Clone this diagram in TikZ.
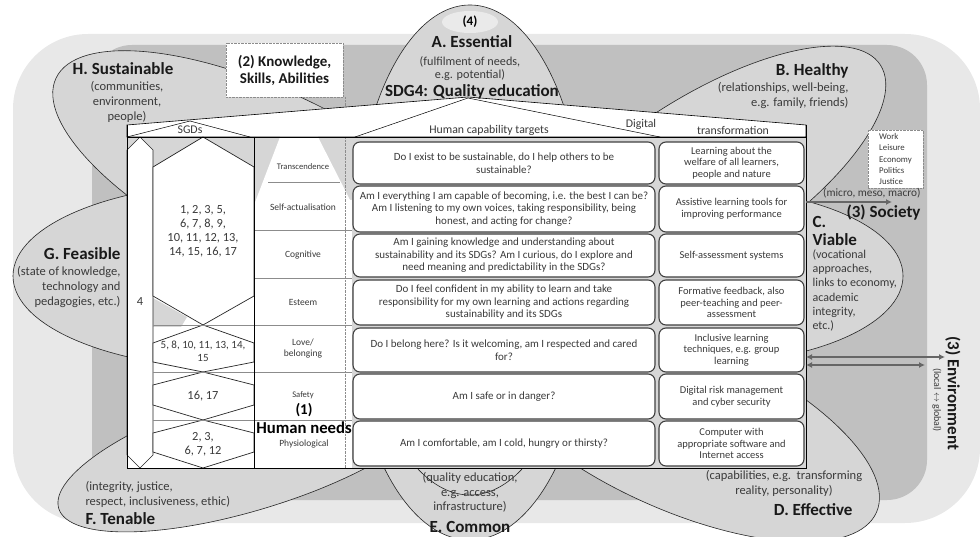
\documentclass[tikz,border=0pt]{standalone}
\usepackage{fontspec}
\setmainfont{Carlito}
\usetikzlibrary{arrows.meta}
\definecolor{outergray}{HTML}{E8E8E8}
\definecolor{midgray}{HTML}{C0C0C0}
\definecolor{petalgray}{HTML}{D6D6D6}
\definecolor{inkgray}{HTML}{3A3A3A}
\definecolor{linegray}{HTML}{8C8C8C}
\tikzset{
  petal/.style={fill=petalgray, draw=black!85, line width=0.6pt},
  hexcell/.style={fill=white, draw=black!85, line width=0.7pt},
  rowline/.style={draw=linegray, line width=0.5pt},
  targetbox/.style={draw=black!75, line width=1.1pt, fill=white, rounded corners=7pt, align=center,
    text=inkgray, font=\fontsize{11}{12.5}\selectfont, inner sep=1pt, minimum width=302},
  digitalbox/.style={targetbox, minimum width=145, font=\fontsize{10.5}{11.6}\selectfont},
  petaltitle/.style={font=\fontsize{17}{18}\selectfont\bfseries, text=black!90},
  gloss/.style={font=\fontsize{12.5}{15}\selectfont, text=inkgray},
  level/.style={font=\fontsize{9.5}{11}\selectfont, text=inkgray, align=center},
  sdgnum/.style={font=\fontsize{12.4}{14}\selectfont, text=inkgray, align=center},
  headtext/.style={font=\fontsize{11.8}{13}\selectfont, text=inkgray},
  dottedbox/.style={draw=linegray, densely dotted, fill=white},
  flowarrow/.style={draw=black!60, line width=1.8pt, -{Latex[length=6pt,width=6pt]}},
}

\begin{document}
\begin{tikzpicture}[x=1pt, y=-1pt]
  %%%%% START %%%%%
  \useasboundingbox (0,0) rectangle (980,537);

  % backgrounds
  \fill[outergray, rounded corners=75pt] (13,34) rectangle (980,523);
  \fill[midgray, rounded corners=40pt] (92,45) rectangle (927,500);

  % petals
  \draw[petal, rotate around={-25.5:(270,180)}] (270,180) ellipse [x radius=237, y radius=88];
  \draw[petal, rotate around={33:(700,182)}] (700,182) ellipse [x radius=215, y radius=82];
  \draw[petal] (240,276) ellipse [x radius=227, y radius=93];
  \draw[petal] (700,276) ellipse [x radius=203, y radius=88];
  \draw[petal, rotate around={17:(250,450)}] (250,450) ellipse [x radius=200, y radius=60];
  \draw[petal, rotate around={-24:(680,425)}] (680,425) ellipse [x radius=215, y radius=85];
  \draw[petal] (470,300) ellipse [x radius=120, y radius=240];
  \draw[petal] (470,250) ellipse [x radius=116, y radius=245];
  \fill[outergray!90!white] (470,22) ellipse [x radius=28, y radius=11];

  % knowledge box and its dotted column line
  \draw[linegray, densely dotted] (345,97) -- (345,468);
  \node[dottedbox, minimum width=117, minimum height=54, align=center,
        font=\fontsize{15}{17}\selectfont\bfseries, text=black!90] (skills) at (284.5,70)
        {(2) Knowledge,\\Skills, Abilities};

  % header
  \draw[fill=white, line width=0.6pt] (127,125) -- (468,97) -- (806,125) -- (806,137) -- (127,137) -- cycle;
  \draw[line width=0.5pt] (127,137) -- (190,121) -- (250,137);
  \draw[line width=0.5pt] (355,137) -- (468,98) -- (660,137);

  % SGD column
  \fill[white] (127,137) rectangle (254,468);
  \fill[petalgray] (127,137) rectangle (254,172);
  \fill[petalgray] (153,298) -- (187,317) -- (181,327) -- (153,327) -- cycle;
  \draw[hexcell] (127,150) -- (140,137) -- (153,150) -- (153,455) -- (140,468) -- (127,455) -- cycle;
  \draw[hexcell] (153,167) -- (203,137) -- (254,167) -- (254,296) -- (203,325) -- (153,296) -- cycle;
  \draw[hexcell] (153,343) -- (203,325) -- (254,343) -- (254,362) -- (203,372) -- (153,362) -- cycle;
  \draw[hexcell] (153,385) -- (203,372) -- (254,385) -- (254,405) -- (203,420) -- (153,405) -- cycle;
  \draw[hexcell] (153,433) -- (203,420) -- (254,433) -- (254,452) -- (203,468) -- (153,452) -- cycle;

  % human needs column
  \fill[petalgray] (254,137) rectangle (352,205);
  \fill[white] (280,137) -- (318,137) -- (350,200) -- (352,200) -- (352,468) -- (254,468) -- (254,205) -- cycle;
  \draw[rowline] (268,182) -- (340,182);
  \foreach \y in {230,278} {
    \draw[rowline] (254,\y) -- (352,\y);
  }
  \foreach \y in {325,372,420} {
    \draw[rowline] (153,\y) -- (352,\y);
  }
  \draw[linegray, densely dotted] (345,137) -- (345,468);

  % capability and digital columns
  \fill[petalgray] (352,138) rectangle (806,468);

  % table frame
  \draw[line width=0.8pt] (127,125) -- (127,468) -- (806,468) -- (806,125);
  \draw[line width=0.8pt] (127,137) -- (806,137);
  \draw[line width=0.7pt] (254,137) -- (254,468);

  % header texts
  \node[headtext] (sgdhead) at (190,130) {SGDs};
  \node[headtext] (targethead) at (489,130) {Human capability targets};
  \node[headtext] (digitalhead) at (641,124) {Digital};
  \node[headtext] (transhead) at (733,130) {transformation};

  % SGD numbers
  \node[sdgnum] (sdgall) at (140,302) {4};
  \node[sdgnum] (sdgmain) at (203,231) {1, 2, 3, 5,\\6, 7, 8, 9,\\10, 11, 12, 13,\\14, 15, 16, 17};
  \node[sdgnum, font=\fontsize{11}{13}\selectfont] (sdglove) at (203,351) {5, 8, 10, 11, 13, 14,\\15};
  \node[sdgnum] (sdgsafe) at (203,396) {16, 17};
  \node[sdgnum] (sdgbody) at (203,444) {2, 3,\\6, 7, 12};

  % levels of human needs
  \node[level, font=\fontsize{8.6}{10}\selectfont] (transcendence) at (303,167) {Transcendence};
  \node[level] (selfactual) at (303,207) {Self-actualisation};
  \node[level] (cognitive) at (303,255) {Cognitive};
  \node[level] (esteem) at (303,302) {Esteem};
  \node[level] (love) at (303,349) {Love/\\belonging};
  \node[level, font=\fontsize{8.6}{10}\selectfont] (safety) at (303,395) {Safety};
  \node[font=\fontsize{15}{16}\selectfont\bfseries] (needsnum) at (304,410) {(1)};
  \node[font=\fontsize{16.7}{18}\selectfont\bfseries] (needs) at (304,428) {Human needs};
  \node[level] (physiological) at (304,444) {Physiological};

  % capability targets
  \node[targetbox, minimum height=42] (target1) at (504,163)
    {Do I exist to be sustainable, do I help others to be\\sustainable?};
  \node[targetbox, minimum height=46] (target2) at (504,209)
    {Am I everything I am capable of becoming, i.e. the best I can be?\\Am I listening to my own voices, taking responsibility, being\\honest, and acting for change?};
  \node[targetbox, minimum height=43] (target3) at (504,255.5)
    {Am I gaining knowledge and understanding about\\sustainability and its SDGs? Am I curious, do I explore and\\need meaning and predictability in the SDGs?};
  \node[targetbox, minimum height=45] (target4) at (504,302.5)
    {Do I feel confident in my ability to learn and take\\responsibility for my own learning and actions regarding\\sustainability and its SDGs};
  \node[targetbox, minimum height=44] (target5) at (504,350)
    {Do I belong here? Is it welcoming, am I respected and cared\\for?};
  \node[targetbox, minimum height=45] (target6) at (504,396.5)
    {Am I safe or in danger?};
  \node[targetbox, minimum height=45] (target7) at (504,443.5)
    {\raisebox{-4pt}{Am I comfortable, am I cold, hungry or thirsty?}};

  % digital transformation
  \node[digitalbox, minimum height=42] (digital1) at (731.5,163)
    {Learning about the\\welfare of all learners,\\people and nature};
  \node[digitalbox, minimum height=46] (digital2) at (731.5,209)
    {Assistive learning tools for\\improving performance};
  \node[digitalbox, minimum height=43] (digital3) at (731.5,255.5)
    {Self-assessment systems};
  \node[digitalbox, minimum height=45] (digital4) at (731.5,302.5)
    {Formative feedback, also\\peer-teaching and peer-\\assessment};
  \node[digitalbox, minimum height=44] (digital5) at (731.5,350)
    {Inclusive learning\\techniques, e.g. group\\learning};
  \node[digitalbox, minimum height=45] (digital6) at (731.5,396.5)
    {Digital risk management\\and cyber security};
  \node[digitalbox, minimum height=45] (digital7) at (731.5,443.5)
    {Computer with\\appropriate software and\\Internet access};

  % petal labels
  \node[font=\fontsize{13}{14}\selectfont\bfseries] (numA) at (470,22) {(4)};
  \node[petaltitle] (titleA) at (472,42) {A. Essential};
  \node[gloss, align=center, font=\fontsize{12.2}{13}\selectfont] (textA) at (470,68.5) {(fulfilment of needs,\\e.g. potential)};
  \node[petaltitle] (sdgA) at (472,92) {SDG4: Quality education};

  \node[petaltitle, anchor=east] (titleB) at (852,71) {B. Healthy};
  \node[gloss, align=right, anchor=east] (textB) at (852,95.5) {(relationships, well-being,\\e.g. family, friends)};

  \node[petaltitle, align=left, anchor=west] (titleC) at (809,231) {C.\\Viable};
  \node[gloss, align=left, anchor=west, font=\fontsize{12}{14.2}\selectfont] (textC) at (809,290.5)
    {(vocational\\approaches,\\links to economy,\\academic\\integrity,\\etc.)};

  \node[gloss, align=center] (textD) at (784,483.5) {(capabilities, e.g.\ \ transforming\\reality, personality)};
  \node[petaltitle, anchor=east] (titleD) at (856,510) {D. Effective};

  \node[gloss, align=center, font=\fontsize{12.5}{14.5}\selectfont] (textE) at (470,492.5) {(quality education,\\e.g. access,\\infrastructure)};
  \node[petaltitle] (titleE) at (470,527) {E. Common};

  \node[gloss, align=left, anchor=west] (textF) at (82,494.5) {(integrity, justice,\\respect, inclusiveness, ethic)};
  \node[petaltitle, anchor=west] (titleF) at (82,519) {F. Tenable};

  \node[petaltitle, anchor=east] (titleG) at (124,254) {G. Feasible};
  \node[gloss, align=right, anchor=east] (textG) at (124,287) {(state of knowledge,\\technology and\\pedagogies, etc.)};

  \node[petaltitle] (titleH) at (123,69) {H. Sustainable};
  \node[gloss, align=center] (textH) at (127,102) {(communities,\\environment,\\people)};

  % society
  \node[dottedbox, minimum width=55, minimum height=58, align=left,
        font=\fontsize{8.8}{11.3}\selectfont, text=inkgray] (domains) at (895.5,159)
        {Work\\Leisure\\Economy\\Politics\\Justice};
  \node[gloss, anchor=east, font=\fontsize{11.3}{12}\selectfont] (scaleS) at (924,193) {(micro, meso, macro)};
  \coordinate (socstart) at (806,202);
  \coordinate (socend) at (892,202);
  \draw[flowarrow] (socstart) -- (socend);
  \node[petaltitle, anchor=east] (society) at (924,213) {(3) Society};

  % environment
  \coordinate (envleft) at (806,357);
  \coordinate (envright) at (945,357);
  \coordinate (envleftb) at (806,365);
  \coordinate (envrightb) at (925,365);
  \draw[flowarrow, {Latex[length=6pt,width=6pt]}-{Latex[length=6pt,width=6pt]}] (envleft) -- (envright);
  \draw[flowarrow, {Latex[length=6pt,width=6pt]}-{Latex[length=6pt,width=6pt]}] (envleftb) -- (envrightb);
  \node[petaltitle, rotate=-90] (environment) at (953,393) {(3) Environment};
  \node[font=\fontsize{10}{11}\selectfont, text=inkgray, rotate=-90] (envscale) at (937,400) {(local $\leftrightarrow$ global)};

  %%%%% END %%%%%
\end{tikzpicture}
\end{document}
